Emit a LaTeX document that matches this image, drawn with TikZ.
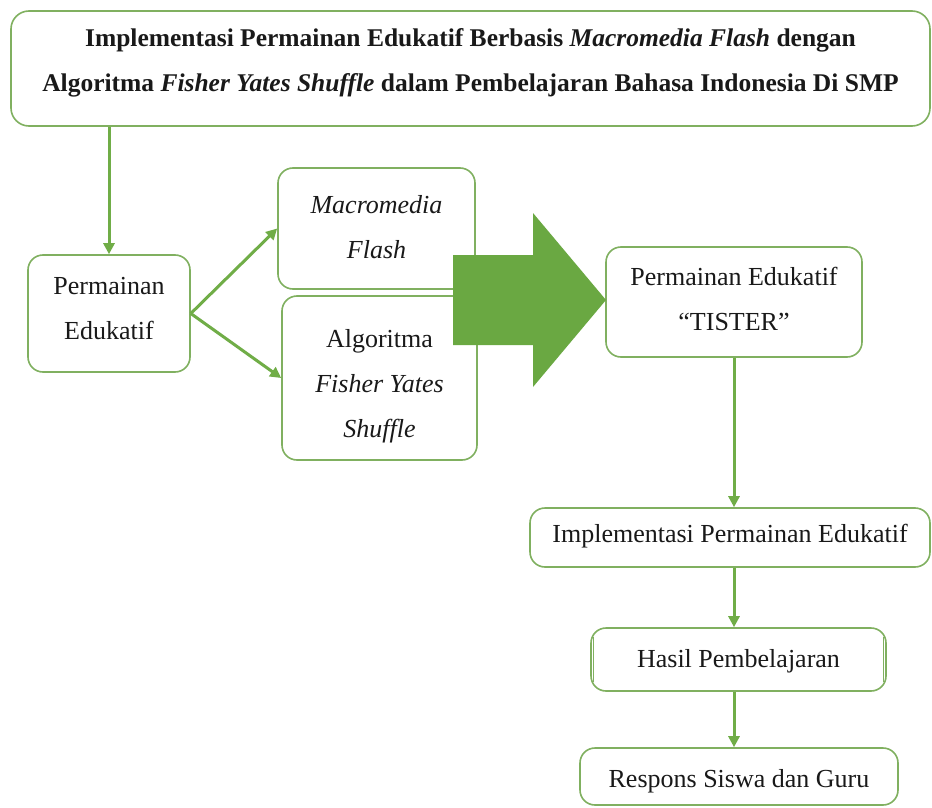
\documentclass[tikz,border=0pt]{standalone}
\usepackage{fontspec}
\setmainfont{Liberation Serif}
\usetikzlibrary{arrows.meta}
\definecolor{boxgreen}{RGB}{128,176,96}
\definecolor{linegreen}{RGB}{112,173,71}
\definecolor{bigarrow}{RGB}{106,168,66}
\definecolor{txt}{RGB}{25,25,25}
\tikzset{
  boxnode/.style={draw=boxgreen, line width=1.6pt, rounded corners=15pt, fill=white, inner sep=0pt},
  txtnode/.style={align=center, inner sep=0pt, text=txt, font=\fontsize{26}{45}\selectfont},
  conn/.style={draw=linegreen, line width=3pt, -{Triangle[length=11pt,width=11pt]}},
}
\begin{document}
\begin{tikzpicture}[x=1pt,y=-1pt]
\useasboundingbox[fill=white] (0,0) rectangle (932,808);

\node[boxnode, rounded corners=18pt, minimum width=919pt, minimum height=115pt] (title) at (470.5,68.5) {};
\node[txtnode, font=\fontsize{25.5}{45}\selectfont\bfseries, yshift=6pt] (titletext) at (title.center)
  {Implementasi Permainan Edukatif Berbasis \textit{Macromedia Flash} dengan\\
   Algoritma \textit{Fisher Yates Shuffle} dalam Pembelajaran Bahasa Indonesia Di SMP};

\node[boxnode, minimum width=162pt, minimum height=117pt] (perm) at (109,313.5) {};
\node[txtnode, yshift=5pt] (permtext) at (perm.center) {Permainan\\Edukatif};

\node[boxnode, minimum width=197pt, minimum height=121pt] (macro) at (376.5,228.5) {};
\node[txtnode, yshift=1pt] (macrotext) at (macro.center) {\textit{Macromedia}\\\textit{Flash}};

\node[boxnode, minimum width=195pt, minimum height=164pt] (algo) at (379.5,378) {};
\node[txtnode, yshift=-8pt] (algotext) at (algo.center) {Algoritma\\\textit{Fisher Yates}\\\textit{Shuffle}};

\node[boxnode, minimum width=256pt, minimum height=110pt] (tister) at (734,302) {};
\node[txtnode, yshift=3pt] (tistertext) at (tister.center) {Permainan Edukatif\\``TISTER''};

\node[boxnode, minimum width=400pt, minimum height=59pt] (impl) at (730,537.5) {};
\node[txtnode, yshift=1pt] (impltext) at (impl.center) {Implementasi Permainan Edukatif};

\node[boxnode, minimum width=295pt, minimum height=63pt] (hasil) at (738.5,659.5) {};
\draw[boxgreen, line width=1.2pt] ([xshift=3.5pt,yshift=-10pt]hasil.north west) -- ([xshift=3.5pt,yshift=10pt]hasil.south west);
\draw[boxgreen, line width=1.2pt] ([xshift=-3.5pt,yshift=-10pt]hasil.north east) -- ([xshift=-3.5pt,yshift=10pt]hasil.south east);
\node[txtnode, yshift=-2pt] (hasiltext) at (hasil.center) {Hasil Pembelajaran};

\node[boxnode, minimum width=318pt, minimum height=57pt] (resp) at (739,776.5) {};
\node[txtnode, yshift=-5pt] (resptext) at (resp.center) {Respons Siswa dan Guru};

% big arrow
\fill[bigarrow] (453,255) -- (533,255) -- (533,213) -- (606,300) -- (533,387) -- (533,345) -- (453,345) -- cycle;

% connectors
\draw[conn] (title.south -| perm.north) -- (perm.north);
\draw[conn] (perm.east) -- (macro.west);
\draw[conn] (perm.east) -- (algo.west);
\draw[conn] (tister.south) -- (impl.north -| tister.south);
\draw[conn] (impl.south -| tister.south) -- (hasil.north -| tister.south);
\draw[conn] (hasil.south -| tister.south) -- (resp.north -| tister.south);
\end{tikzpicture}
\end{document}
